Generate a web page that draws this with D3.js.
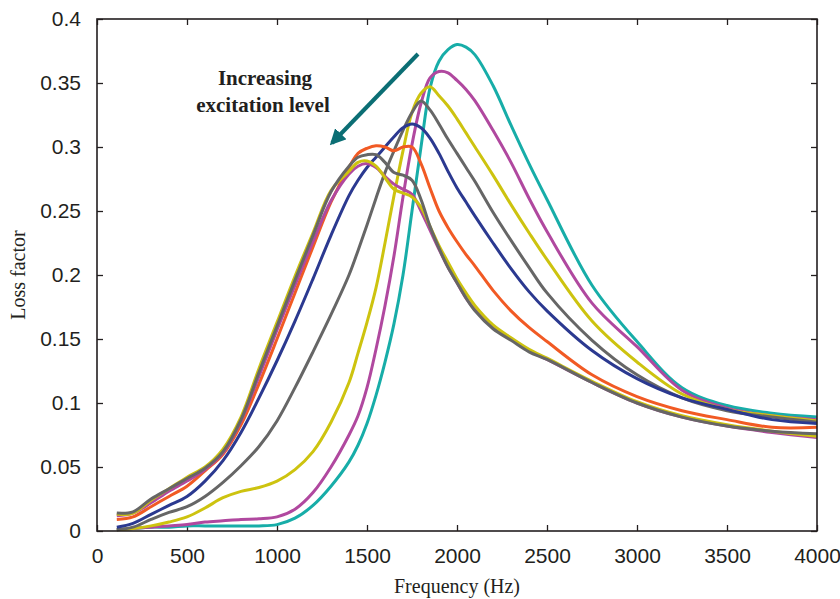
<!DOCTYPE html>
<html>
<head>
<meta charset="utf-8">
<script src="https://cdn.jsdelivr.net/npm/d3@7/dist/d3.min.js"></script>
<style>
  body { margin: 0; background: #fff; }
  .tick text { font-family: "Liberation Sans", Arial, sans-serif; font-size: 21px; fill: #231f20; }
  .tick line { stroke: #231f20; stroke-width: 1.3; }
</style>
</head>
<body>
<svg id="chart" width="840" height="599"></svg>
<script>
// 频率网格 (Hz)
const freq = [110, 200, 300, 400, 500, 600, 700, 800, 900, 1000, 1100, 1200, 1300,
  1400, 1450, 1500, 1550, 1600, 1650, 1700, 1750, 1800, 1850, 1900, 1950, 2000, 2050, 2100,
  2200, 2300, 2400, 2500, 2750, 3000, 3250, 3500, 3750, 4000];

// 各曲线的损耗因子 (激励水平从低到高)
const lossTeal = [0.001, 0.002, 0.003, 0.003, 0.004, 0.004, 0.004, 0.004, 0.004, 0.005, 0.010, 0.020, 0.035,
  0.054, 0.067, 0.084, 0.106, 0.132, 0.162, 0.200, 0.250, 0.300, 0.346, 0.367, 0.376, 0.380, 0.378, 0.372,
  0.348, 0.317, 0.287, 0.259, 0.192, 0.148, 0.112, 0.098, 0.092, 0.089];
const lossMagenta1 = [0.001, 0.002, 0.003, 0.004, 0.005, 0.007, 0.008, 0.009, 0.0095, 0.011, 0.017, 0.030, 0.050,
  0.075, 0.090, 0.112, 0.142, 0.176, 0.215, 0.261, 0.302, 0.334, 0.354, 0.359, 0.358, 0.352, 0.345, 0.336,
  0.313, 0.288, 0.260, 0.234, 0.178, 0.144, 0.110, 0.096, 0.090, 0.087];
const lossYellow1 = [0.001, 0.002, 0.004, 0.007, 0.011, 0.018, 0.026, 0.031, 0.034, 0.039, 0.048, 0.062, 0.085,
  0.116, 0.139, 0.163, 0.190, 0.225, 0.262, 0.297, 0.327, 0.342, 0.347, 0.340, 0.332, 0.322, 0.311, 0.300,
  0.278, 0.255, 0.233, 0.212, 0.164, 0.132, 0.107, 0.095, 0.090, 0.086];
const lossGray1 = [0.001, 0.003, 0.009, 0.0145, 0.019, 0.027, 0.038, 0.051, 0.066, 0.086, 0.112, 0.140, 0.169,
  0.200, 0.219, 0.239, 0.260, 0.280, 0.297, 0.313, 0.327, 0.336, 0.329, 0.318, 0.306, 0.295, 0.284, 0.273,
  0.249, 0.227, 0.206, 0.186, 0.149, 0.122, 0.104, 0.094, 0.089, 0.085];
const lossNavy = [0.003, 0.006, 0.013, 0.020, 0.027, 0.039, 0.055, 0.077, 0.104, 0.133, 0.164, 0.197, 0.231,
  0.262, 0.274, 0.284, 0.292, 0.300, 0.308, 0.315, 0.318, 0.315, 0.307, 0.295, 0.281, 0.268, 0.257, 0.246,
  0.225, 0.205, 0.187, 0.172, 0.141, 0.119, 0.104, 0.095, 0.087, 0.084];
const lossOrange = [0.009, 0.011, 0.019, 0.027, 0.035, 0.047, 0.060, 0.083, 0.115, 0.150, 0.186, 0.222, 0.257,
  0.284, 0.295, 0.299, 0.301, 0.300, 0.297, 0.300, 0.300, 0.287, 0.268, 0.250, 0.237, 0.226, 0.216, 0.207,
  0.188, 0.172, 0.159, 0.148, 0.122, 0.105, 0.094, 0.087, 0.081, 0.081];
const lossMagenta2 = [0.012, 0.014, 0.022, 0.031, 0.039, 0.048, 0.061, 0.086, 0.121, 0.157, 0.192, 0.226, 0.258,
  0.279, 0.285, 0.287, 0.284, 0.277, 0.271, 0.267, 0.263, 0.250, 0.235, 0.220, 0.206, 0.194, 0.182, 0.173,
  0.159, 0.150, 0.141, 0.134, 0.116, 0.100, 0.089, 0.082, 0.077, 0.073];
const lossYellow2 = [0.013, 0.014, 0.024, 0.033, 0.042, 0.050, 0.064, 0.089, 0.127, 0.163, 0.199, 0.233, 0.266,
  0.281, 0.288, 0.289, 0.285, 0.276, 0.267, 0.264, 0.261, 0.253, 0.238, 0.223, 0.210, 0.197, 0.186, 0.176,
  0.161, 0.151, 0.142, 0.135, 0.117, 0.101, 0.090, 0.083, 0.078, 0.074];
const lossGray2 = [0.014, 0.015, 0.025, 0.033, 0.041, 0.049, 0.062, 0.087, 0.124, 0.160, 0.196, 0.231, 0.265,
  0.285, 0.292, 0.294, 0.294, 0.288, 0.280, 0.278, 0.274, 0.259, 0.238, 0.221, 0.206, 0.194, 0.182, 0.172,
  0.158, 0.149, 0.140, 0.134, 0.116, 0.100, 0.089, 0.082, 0.078, 0.076];

const series = [lossTeal, lossMagenta1, lossYellow1, lossGray1, lossNavy, lossOrange, lossMagenta2, lossYellow2, lossGray2];
const seriesColors = ['#17ada8', '#b0489f', '#cdc30f', '#666666', '#2b3990', '#f15a24', '#b0489f', '#cdc30f', '#666666'];

const xTicks = [0, 500, 1000, 1500, 2000, 2500, 3000, 3500, 4000];
const yTicks = [0, 0.05, 0.1, 0.15, 0.2, 0.25, 0.3, 0.35, 0.4];

// 绘图区边界
const plotLeft = 97, plotRight = 817, plotTop = 19, plotBottom = 531;
const svg = d3.select('#chart');

const x = d3.scaleLinear().domain([0, 4000]).range([plotLeft, plotRight]);
const y = d3.scaleLinear().domain([0, 0.4]).range([plotBottom, plotTop]);

// 坐标轴 (刻度朝内)
svg.append('g')
  .attr('transform', `translate(0,${plotBottom})`)
  .call(d3.axisBottom(x).tickValues(xTicks).tickSize(-6).tickSizeOuter(0).tickPadding(17)
    .tickFormat(d => String(d)))
  .call(g => g.select('.domain').remove());
svg.append('g')
  .attr('transform', `translate(${plotLeft},0)`)
  .call(d3.axisLeft(y).tickValues(yTicks).tickSize(-6).tickSizeOuter(0).tickPadding(16)
    .tickFormat(d => d === 0 ? '0' : String(+d.toFixed(2))))
  .call(g => g.select('.domain').remove());
svg.append('g')
  .attr('transform', `translate(0,${plotTop})`)
  .call(d3.axisTop(x).tickValues(xTicks).tickSize(-6).tickSizeOuter(0).tickFormat(''))
  .call(g => g.select('.domain').remove());
svg.append('g')
  .attr('transform', `translate(${plotRight},0)`)
  .call(d3.axisRight(y).tickValues(yTicks).tickSize(-6).tickSizeOuter(0).tickFormat(''))
  .call(g => g.select('.domain').remove());

// 曲线
const line = d3.line()
  .x((d, i) => x(freq[i]))
  .y(d => y(d))
  .curve(d3.curveCatmullRom.alpha(0.5));

svg.append('g')
  .selectAll('path')
  .data(series)
  .enter()
  .append('path')
  .attr('d', d => line(d))
  .attr('fill', 'none')
  .attr('stroke', (d, i) => seriesColors[i])
  .attr('stroke-width', 3)
  .attr('stroke-linejoin', 'round');

// 边框
svg.append('rect')
  .attr('x', plotLeft).attr('y', plotTop)
  .attr('width', plotRight - plotLeft).attr('height', plotBottom - plotTop)
  .attr('fill', 'none')
  .attr('stroke', '#231f20')
  .attr('stroke-width', 1.6);

// 轴标题
svg.append('text')
  .attr('x', (plotLeft + plotRight) / 2)
  .attr('y', 593)
  .attr('text-anchor', 'middle')
  .attr('font-family', '"Liberation Serif", "Times New Roman", serif')
  .attr('font-size', 20)
  .attr('fill', '#231f20')
  .text('Frequency (Hz)');
svg.append('text')
  .attr('transform', `translate(25,${(plotTop + plotBottom) / 2}) rotate(-90)`)
  .attr('text-anchor', 'middle')
  .attr('font-family', '"Liberation Serif", "Times New Roman", serif')
  .attr('font-size', 20)
  .attr('fill', '#231f20')
  .text('Loss factor');

// 注释文字和箭头
const note = svg.append('text')
  .attr('text-anchor', 'middle')
  .attr('font-family', '"Liberation Serif", "Times New Roman", serif')
  .attr('font-weight', 'bold')
  .attr('font-size', 21)
  .attr('fill', '#231f20');
note.append('tspan').attr('x', 265).attr('y', 85).text('Increasing');
note.append('tspan').attr('x', 263).attr('y', 112).text('excitation level');

svg.append('defs').append('marker')
  .attr('id', 'arrowhead')
  .attr('viewBox', '0 -5 10 10')
  .attr('refX', 8)
  .attr('refY', 0)
  .attr('markerWidth', 4)
  .attr('markerHeight', 4)
  .attr('orient', 'auto')
  .append('path')
  .attr('d', 'M0,-5L10,0L0,5Z')
  .attr('fill', '#0b6e74');

svg.append('line')
  .attr('x1', 418).attr('y1', 54)
  .attr('x2', 332).attr('y2', 143)
  .attr('stroke', '#0b6e74')
  .attr('stroke-width', 4)
  .attr('marker-end', 'url(#arrowhead)');
</script>
</body>
</html>
